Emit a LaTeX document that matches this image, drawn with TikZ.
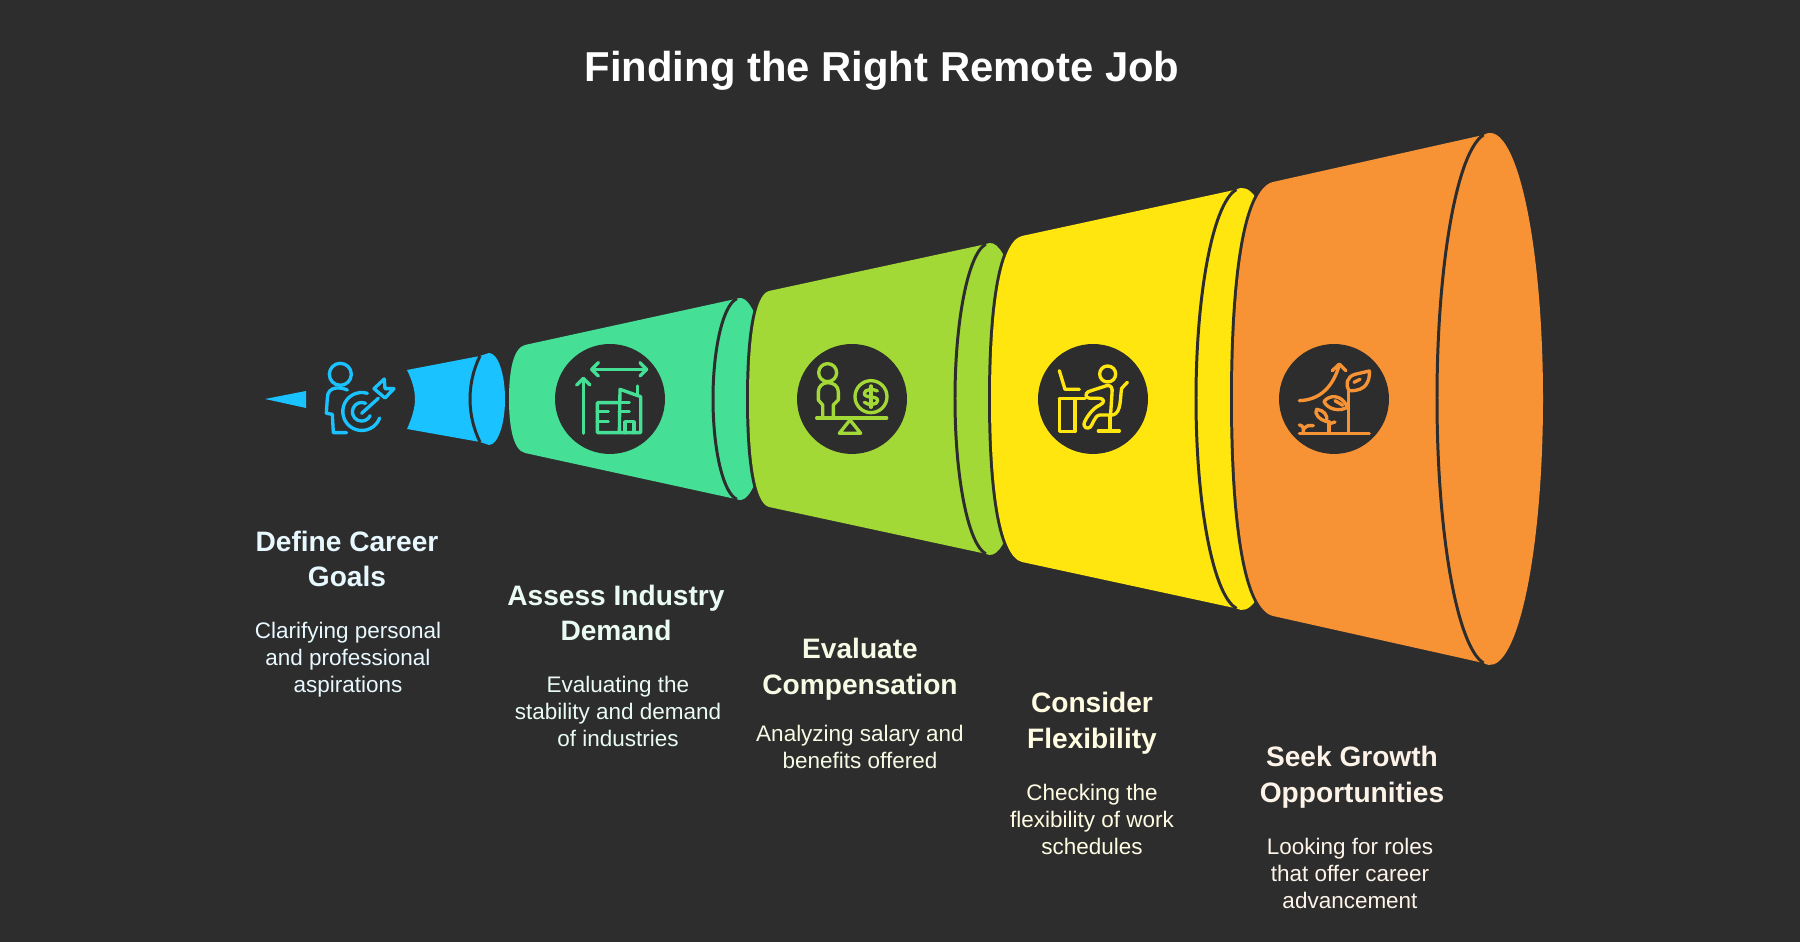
\documentclass[tikz,border=0pt]{standalone}
\usepackage{fontspec}
\setmainfont{Liberation Sans}
\usetikzlibrary{positioning}
\definecolor{bgdark}{HTML}{2D2D2D}
\definecolor{skyblue}{HTML}{1AC3FF}
\definecolor{mint}{HTML}{45DF96}
\definecolor{lime}{HTML}{A3D936}
\definecolor{sunny}{HTML}{FFE60F}
\definecolor{tangerine}{HTML}{F89335}
\definecolor{skytext}{HTML}{E8F8FF}
\definecolor{minttext}{HTML}{E9FBF2}
\definecolor{limetext}{HTML}{F5FBE4}
\definecolor{sunnytext}{HTML}{FFFCE2}
\definecolor{tangerinetext}{HTML}{FEF3E8}
% #1 colour, #2 corner x, #3 leftmost x, #4 half height at corner, #5 rim centre x, #6 rim x radius, #7 rim y radius
\newcommand{\funnelseg}[7]{
\draw[rimline, line width=3.4pt] (#2,544-#4) .. controls ({#2-0.75*(#2-#3)},{544-#4+0.18*(#2-#3)}) and (#3,544-0.5*#4) .. (#3,544)
  .. controls (#3,544+0.5*#4) and ({#2-0.75*(#2-#3)},{544+#4-0.18*(#2-#3)}) .. (#2,544+#4);
\fill[#1] (#2,544+#4) -- ({#5+#6*cos(97)},{544+#7*sin(97)})
  arc[start angle=97, end angle=-97, x radius=#6, y radius=#7]
  -- (#2,544-#4) .. controls ({#2-0.75*(#2-#3)},{544-#4+0.18*(#2-#3)}) and (#3,544-0.5*#4) .. (#3,544)
  .. controls (#3,544+0.5*#4) and ({#2-0.75*(#2-#3)},{544+#4-0.18*(#2-#3)}) .. (#2,544+#4) -- cycle;
\draw[rimline] ({#5+#6*cos(97)},{544+#7*sin(97)}) arc[start angle=97, end angle=263, x radius=#6, y radius=#7];
}
\begin{document}
\begin{tikzpicture}[
  x=0.02cm, y=0.02cm,
  rimline/.style={draw=bgdark, line width=1.7pt},
  iconbg/.style={circle, fill=bgdark, minimum size=2.2cm, inner sep=0pt},
  iconline/.style={draw=#1, line width=1.9pt, line cap=round, line join=round},
  heading/.style={align=center, text=#1, font=\fontsize{16}{20.3}\selectfont\bfseries, inner sep=0pt},
  detail/.style={align=center, text=#1, font=\fontsize{12.8}{15.4}\selectfont, inner sep=0pt},
  icongrid/.style={xscale=1/3, yscale=-1/3}
]
\fill[bgdark] (0,0) rectangle (1800,942);
\node[text=white, font=\fontsize{23.8}{28}\selectfont\bfseries] (title) at (882,871) {Finding the Right Remote Job};

\begin{scope}[yshift=-0.02cm]
% funnel
\fill[skyblue] (265,544) -- (306,552) -- (306,535) -- cycle;
\fill[skyblue] (407,573) -- (480,587) -- (489,590) arc[start angle=90, end angle=-90, x radius=16, y radius=46] -- (480,501) -- (407,514) .. controls (412,525) and (415,535) .. (415,544) .. controls (415,553) and (412,563) .. (407,573) -- cycle;
\draw[rimline] (480,587) .. controls (474,575) and (470,560) .. (470,544) .. controls (470,528) and (474,513) .. (480,501);
\funnelseg{mint}{525}{509}{54}{740}{27}{101}
\funnelseg{lime}{769}{749}{108}{990}{35}{156}
\funnelseg{sunny}{1022}{991}{163}{1242}{46}{211}
\funnelseg{tangerine}{1273}{1233}{217}{1490}{53}{266}

\node[iconbg] (iconmint) at (610,544) {};
\node[iconbg] (iconlime) at (852,544) {};
\node[iconbg] (iconsunny) at (1093,544) {};
\node[iconbg] (icontangerine) at (1334,544) {};
\end{scope}

% target icon
\begin{scope}[shift={(250,612)}, icongrid]
\draw[iconline=skyblue] (271,133) circle[radius=33];
\draw[iconline=skyblue] (292,180) .. controls (275,172) and (232,165) .. (232,205) -- (229,250) -- (247,253) -- (250,308) -- (290,308);
\draw[iconline=skyblue] (352,190) arc[start angle=-73, end angle=-340, radius=57];
\draw[iconline=skyblue] (347,220) arc[start angle=-65, end angle=-335, radius=28];
\draw[iconline=skyblue] (335,250) -- (385,205);
\draw[iconline=skyblue] (372,176) -- (403,147) -- (405,176) -- (432,176) -- (405,204) -- cycle;
\end{scope}

% industry icon
\begin{scope}[shift={(490,662)}, icongrid]
\draw[iconline=mint] (280,460) -- (280,297);
\draw[iconline=mint] (260,315) -- (280,295) -- (300,315);
\draw[iconline=mint] (305,268) -- (470,268);
\draw[iconline=mint] (325,248) -- (305,268) -- (325,288);
\draw[iconline=mint] (450,248) -- (470,268) -- (450,288);
\draw[iconline=mint] (385,368) -- (322,368) -- (322,458) -- (452,458) -- (452,350) -- (390,328) -- (388,458);
\draw[iconline=mint] (322,395) -- (355,395);
\draw[iconline=mint] (322,425) -- (355,425);
\draw[iconline=mint] (388,368) -- (418,368);
\draw[iconline=mint] (388,395) -- (418,395);
\draw[iconline=mint] (405,458) -- (405,425) -- (432,425) -- (432,458);
\draw[iconline=mint] (442,318) -- (442,345);
\end{scope}

% balance icon
\begin{scope}[shift={(770,612)}, icongrid]
\draw[iconline=lime] (173,128) circle[radius=27];
\draw[iconline=lime] (158,262) -- (158,225) -- (145,210) -- (145,185) .. controls (145,168) and (160,158) .. (173,158) .. controls (190,158) and (205,168) .. (205,185) -- (205,210) -- (190,225) -- (190,262);
\draw[iconline=lime] (303,200) circle[radius=48];
\draw[iconline=lime] (322,183) .. controls (310,175) and (283,178) .. (283,190) .. controls (283,207) and (323,195) .. (323,212) .. controls (323,225) and (295,227) .. (283,217);
\draw[iconline=lime] (303,168) -- (303,232);
\draw[iconline=lime] (140,264) -- (350,264);
\draw[iconline=lime] (240,270) -- (208,310) -- (272,310) -- cycle;
\end{scope}

% desk icon
\begin{scope}[shift={(1020,612)}, icongrid]
\draw[iconline=sunny] (263,132) circle[radius=24];
\draw[iconline=sunny] (118,122) -- (135,178) -- (178,178);
\draw[iconline=sunny] (118,205) rectangle (165,305);
\draw[iconline=sunny] (118,205) -- (195,205);
\draw[iconline=sunny] (272,250) -- (276,190) .. controls (278,175) and (275,165) .. (260,167) -- (205,185) .. controls (195,190) and (195,205) .. (210,205) -- (235,205) .. controls (255,205) and (255,218) .. (240,225) .. controls (215,235) and (190,275) .. (192,285) .. controls (195,300) and (212,295) .. (215,285) .. controls (225,265) and (230,255) .. (240,255) -- (278,255) .. controls (305,250) and (300,200) .. (305,175) -- (322,157);
\draw[iconline=sunny] (235,303) -- (298,303);
\draw[iconline=sunny] (270,255) -- (270,303);
\end{scope}

% growth icon
\begin{scope}[shift={(1260,612)}, icongrid]
\draw[iconline=tangerine] (118,310) -- (328,310);
\draw[iconline=tangerine] (266,310) -- (266,182);
\draw[iconline=tangerine] (268,182) .. controls (255,165) and (260,140) .. (285,133) -- (328,123) .. controls (330,150) and (320,185) .. (268,182) -- cycle;
\draw[iconline=tangerine] (282,157) -- (300,148);
\draw[iconline=tangerine] (262,232) .. controls (240,245) and (205,240) .. (192,215) .. controls (205,195) and (245,190) .. (262,232) -- cycle;
\draw[iconline=tangerine] (225,212) -- (248,226);
\draw[iconline=tangerine] (207,310) -- (207,275);
\draw[iconline=tangerine] (200,275) .. controls (180,270) and (160,250) .. (170,238) .. controls (190,240) and (205,255) .. (200,275) -- cycle;
\draw[iconline=tangerine] (207,282) -- (225,276);
\draw[iconline=tangerine] (130,310) -- (130,295) .. controls (130,288) and (122,285) .. (118,285);
\draw[iconline=tangerine] (130,298) .. controls (140,285) and (150,285) .. (160,287);
\draw[iconline=tangerine] (118,212) .. controls (180,210) and (220,170) .. (238,104);
\draw[iconline=tangerine] (217,122) -- (238,102) -- (258,122);
\end{scope}

% labels
\node[heading=skytext] (goalshead) at (347,383) {Define Career\\Goals};
\node[detail=skytext, below=0.68cm of goalshead, xshift=0.02cm] (goalstext) {Clarifying personal\\and professional\\aspirations};
\node[heading=minttext] (demandhead) at (616,329) {Assess Industry\\Demand};
\node[detail=minttext, below=0.68cm of demandhead, xshift=0.04cm] (demandtext) {Evaluating the\\stability and demand\\of industries};
\node[heading=limetext] (compensationhead) at (860,273) {Evaluate\\Compensation};
\node[detail=limetext, below=0.50cm of compensationhead] (compensationtext) {Analyzing salary and\\benefits offered};
\node[heading=sunnytext] (flexhead) at (1092,219) {Consider\\Flexibility};
\node[detail=sunnytext, below=0.59cm of flexhead] (flextext) {Checking the\\flexibility of work\\schedules};
\node[heading=tangerinetext] (growthhead) at (1352,165) {Seek Growth\\Opportunities};
\node[detail=tangerinetext, below=0.59cm of growthhead, xshift=-0.04cm] (growthtext) {Looking for roles\\that offer career\\advancement};
\end{tikzpicture}
\end{document}
